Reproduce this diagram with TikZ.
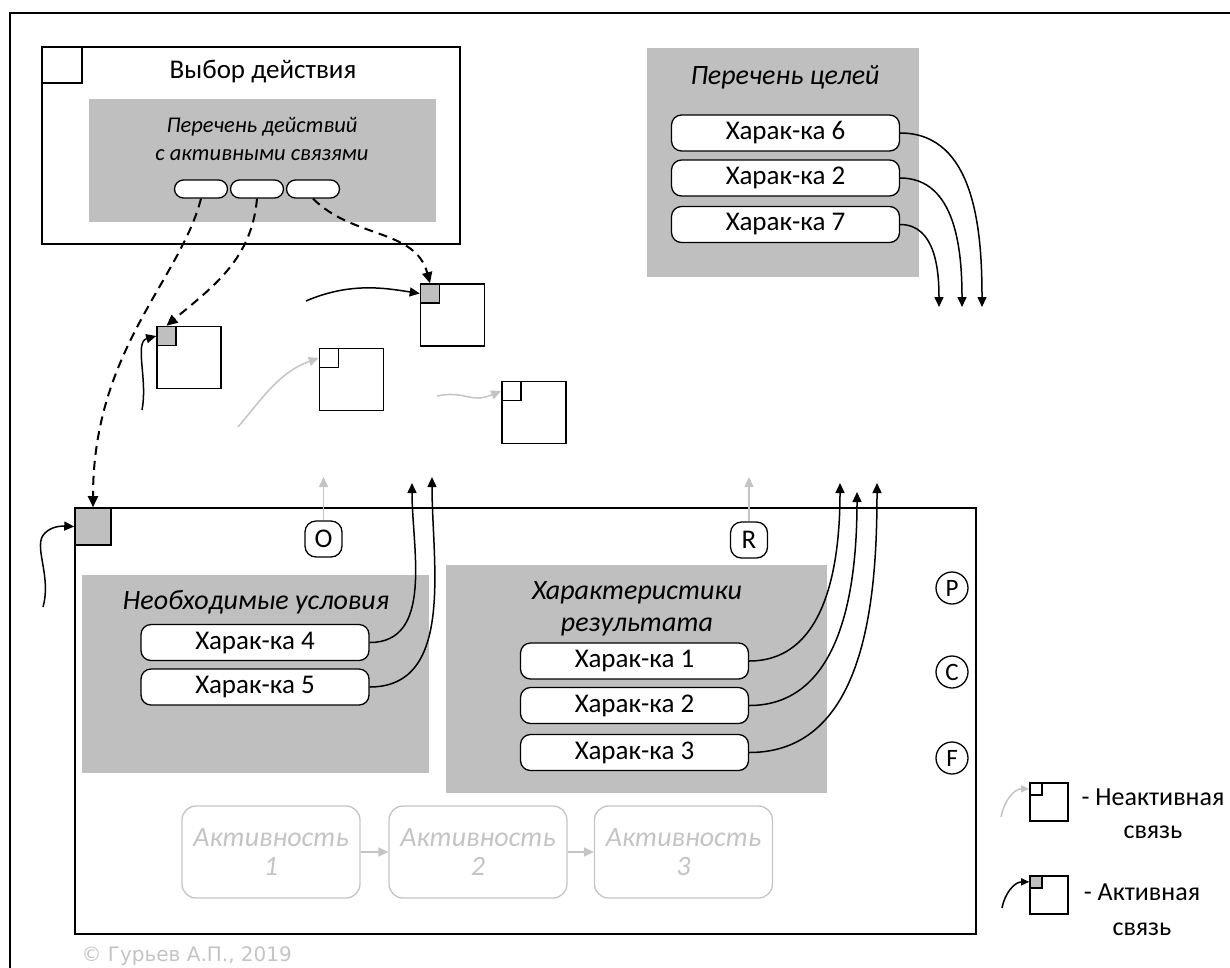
\documentclass[tikz,border=0pt]{standalone}
\usepackage{fontspec}
\setmainfont{Carlito}
\newfontfamily\signfont{DejaVu Sans}
\usetikzlibrary{positioning,arrows.meta}
\definecolor{panelgray}{RGB}{191,191,191}
\definecolor{fadegray}{RGB}{196,196,196}

\begin{document}
\begin{tikzpicture}[
    x=1pt, y=-1pt,
    frame/.style={draw, line width=1.6pt, inner sep=0pt},
    panel/.style={fill=panelgray, inner sep=0pt},
    pill/.style={draw, line width=1.3pt, fill=white, rounded corners=10pt, minimum width=228pt, minimum height=36pt, inner sep=0pt, font=\fontsize{27}{30}\selectfont},
    slot/.style={draw, line width=1.3pt, fill=white, rounded corners=9pt, minimum width=53pt, minimum height=18pt, inner sep=0pt},
    item/.style={draw, line width=1.6pt, minimum width=64pt, minimum height=62pt, inner sep=0pt},
    corner/.style={draw, line width=1.6pt, minimum size=19pt, inner sep=0pt, anchor=north west},
    port/.style={draw, line width=1.3pt, rounded corners=11pt, minimum width=37pt, minimum height=36pt, inner sep=0pt, font=\fontsize{27}{27}\selectfont},
    pcirc/.style={draw, circle, line width=1.3pt, minimum size=32pt, inner sep=0pt, font=\fontsize{25}{25}\selectfont},
    act/.style={draw=fadegray, line width=1.3pt, rounded corners=14pt, minimum width=178pt, minimum height=92pt, align=center, text=fadegray, font=\fontsize{28}{29}\selectfont\itshape},
    heading/.style={font=\fontsize{28}{32}\selectfont\itshape, align=center},
    arr/.style={-{Triangle[length=10pt,width=9pt]}, line width=1.5pt},
    darr/.style={-{Triangle[length=11pt,width=10pt]}, line width=2pt, dash pattern=on 9pt off 6pt},
    garr/.style={arr, color=fadegray}
]
\useasboundingbox (0,0) rectangle (1230,967);

% Sheet border
\draw[line width=1.6pt] (10,13) rectangle (1260,1000);

% Action choice
\node[frame, minimum width=418pt, minimum height=197pt] (choice) at (251,145.5) {};
\node[frame, minimum width=40pt, minimum height=36pt, anchor=north west] (choicemk) at (choice.north west) {};
\node[font=\fontsize{27}{27}\selectfont] (choicettl) at (263,72) {Выбор действия};
\node[panel, minimum width=347pt, minimum height=123pt] (actlist) at (262.5,160.5) {};
\node[font=\fontsize{22.5}{28}\selectfont\itshape, align=center] (actlistttl) at (262,139) {Перечень действий\\с активными связями};
\node[slot] (slot1) at (201,189) {};
\node[slot] (slot2) at (257,189) {};
\node[slot] (slot3) at (313,189) {};

% Goals
\node[panel, minimum width=272pt, minimum height=229pt] (goals) at (783,162.5) {};
\node[heading] (goalsttl) at (785,77) {Перечень целей};
\node[pill] (goal6) at (785.5,133) {Харак-ка 6};
\node[pill] (goal2) at (785.5,178) {Харак-ка 2};
\node[pill] (goal7) at (785.5,224.5) {Харак-ка 7};
\coordinate (g6end) at (982,307);
\coordinate (g2end) at (962,307);
\coordinate (g7end) at (939,307);
\draw[arr] (goal6.east) to[out=0,in=90] (g6end);
\draw[arr] (goal2.east) to[out=0,in=90] (g2end);
\draw[arr] (goal7.east) to[out=0,in=90] (g7end);

% Linked items
\node[item] (itA) at (189,357.5) {};
\node[corner, fill=panelgray] (mkA) at (itA.north west) {};
\node[item] (itB) at (452.5,315) {};
\node[corner, fill=panelgray] (mkB) at (itB.north west) {};
\node[item] (itC) at (351.5,379.5) {};
\node[corner, fill=white] (mkC) at (itC.north west) {};
\node[item] (itD) at (534,412.5) {};
\node[corner, fill=white] (mkD) at (itD.north west) {};

\coordinate (inA) at (142,410);
\coordinate (inB) at (306,301);
\coordinate (inC) at (238,427);
\coordinate (inD) at (437,396);
\draw[arr] (inA) .. controls (148,380) and (134,342) .. (mkA.west);
\draw[arr] (inB) .. controls (350,282) and (385,288) .. (mkB.west);
\draw[garr] (inC) to[out=50,in=200] (mkC.west);
\draw[garr] (inD) .. controls (465,390) and (470,404) .. (mkD.west);

% Process
\node[frame, minimum width=901pt, minimum height=426pt] (proc) at (525.5,721) {};
\node[corner, minimum width=36pt, minimum height=37pt, fill=panelgray] (mkP) at (proc.north west) {};
\coordinate (inP) at (43,607);
\draw[arr] (inP) .. controls (52,575) and (32,545) .. (45,533) .. controls (52,526) and (62,526) .. (mkP.west);

\draw[darr] (slot1.south) .. controls (180,280) and (93,350) .. (mkP.north);
\draw[darr] (slot2.south) to[out=-95,in=40] (mkA.north);
\draw[darr] (slot3.south) to[out=-45,in=105] (mkB.north);

\node[port] (portO) at (323.5,539) {O};
\node[port] (portR) at (749,540) {R};
\coordinate (outO) at (323.5,477);
\coordinate (outR) at (749,477);
\draw[garr] (portO.north) -- (outO);
\draw[garr] (portR.north) -- (outR);

% Conditions
\node[panel, minimum width=347pt, minimum height=198pt] (conds) at (255.5,674) {};
\node[heading] (condsttl) at (256,602) {Необходимые условия};
\node[pill] (cond4) at (255,642.5) {Харак-ка 4};
\node[pill] (cond5) at (255,687) {Харак-ка 5};
\coordinate (c4end) at (412,483);
\coordinate (c5end) at (432,477);
\draw[arr] (cond4.east) to[out=0,in=-90] (c4end);
\draw[arr] (cond5.east) to[out=0,in=-90] (c5end);

% Results
\node[panel, minimum width=381pt, minimum height=228pt] (results) at (636.5,679) {};
\node[heading] (resultsttl) at (637,609) {Характеристики\\результата};
\node[pill] (res1) at (634.5,661) {Харак-ка 1};
\node[pill] (res2) at (634.5,705.5) {Харак-ка 2};
\node[pill] (res3) at (634.5,752.5) {Харак-ка 3};
\coordinate (r1end) at (840,483);
\coordinate (r2end) at (857,492);
\coordinate (r3end) at (877,483);
\draw[arr] (res1.east) to[out=0,in=-90] (r1end);
\draw[arr] (res2.east) to[out=0,in=-90] (r2end);
\draw[arr] (res3.east) to[out=0,in=-90] (r3end);

% Side markers
\node[pcirc] (pP) at (952,588) {P};
\node[pcirc] (pC) at (952,672) {C};
\node[pcirc] (pF) at (952,758) {F};

% Activities
\node[act] (act1) at (271,852) {Активность\\1};
\node[act] (act2) at (478,852) {Активность\\2};
\node[act] (act3) at (683.5,852) {Активность\\3};
\draw[garr] (act1) -- (act2);
\draw[garr] (act2) -- (act3);

% Legend
\node[item, minimum width=38pt, minimum height=38pt] (lgI) at (1049,802) {};
\node[corner, line width=1.3pt, minimum size=12pt, fill=white] (lgImk) at (lgI.north west) {};
\node[item, minimum width=38pt, minimum height=38pt] (lgA) at (1049,895) {};
\node[corner, line width=1.3pt, minimum size=12pt, fill=panelgray] (lgAmk) at (lgA.north west) {};
\coordinate (lgIin) at (1001,817);
\coordinate (lgAin) at (1002,908);
\draw[garr, -{Triangle[length=8pt,width=7pt]}] (lgIin) to[out=80,in=180] (lgImk.west);
\draw[arr, -{Triangle[length=8pt,width=7pt]}] (lgAin) to[out=80,in=180] (lgAmk.west);
\node[font=\fontsize{26}{33}\selectfont, align=center] (lgItxt) at (1153,814) {- Неактивная\\связь};
\node[font=\fontsize{26}{35}\selectfont, align=center] (lgAtxt) at (1142,910) {- Активная\\связь};

\node[anchor=west, text=fadegray, font=\signfont\fontsize{20}{20}\selectfont] (sign) at (78,956) {© Гурьев А.П., 2019};

\end{tikzpicture}
\end{document}
